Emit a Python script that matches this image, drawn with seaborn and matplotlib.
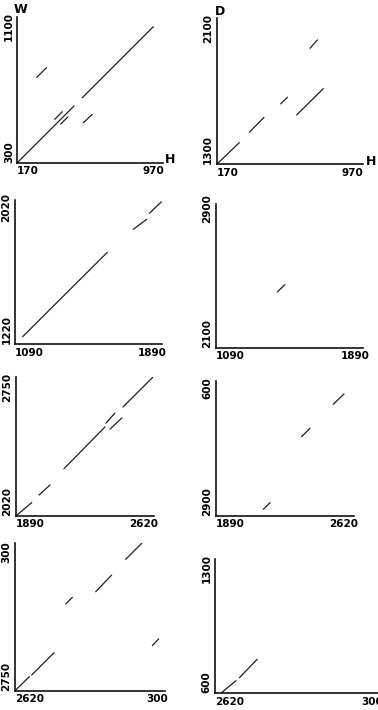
import matplotlib
matplotlib.use("Agg")
import matplotlib.pyplot as plt
import seaborn as sns
import pandas as pd

sns.set_style("white")
plt.rcParams['font.family'] = ['Liberation Sans Narrow', 'DejaVu Sans']
plt.rcParams['text.color'] = 'black'
plt.rcParams['xtick.color'] = 'black'
plt.rcParams['ytick.color'] = 'black'
plt.rcParams['axes.labelcolor'] = 'black'

# ---- data: segments (x0, y0, x1, y1) per panel ----
p1_segments = [(170, 300, 503, 633), (552, 682, 970, 1100), (390, 555, 435, 600),
               (425, 527, 468, 570), (284, 802, 342, 859), (558, 535, 611, 584)]
p2_segments = [(170, 1300, 303, 1427), (362, 1488, 448, 1576), (546, 1655, 586, 1694),
               (640, 1590, 797, 1745), (719, 1982, 762, 2031)]
p3_segments = [(1135, 1265, 1630, 1758), (1782, 1893, 1860, 1951), (1876, 1986, 1946, 2053)]
p4_segments = [(1443, 2421, 1486, 2463)]
p5_segments = [(1894, 2024, 1980, 2096), (2022, 2139, 2085, 2196), (2165, 2288, 2400, 2525),
               (2406, 2547, 2457, 2604), (2429, 2513, 2497, 2576), (2503, 2638, 2673, 2806)]
p6_segments = [(2160, 2938, 2198, 2976), (2378, 3352, 2426, 3400), (2559, 3537, 2620, 3595)]
p7_segments = [(2620, 2750, 2702, 2830), (2715, 2839, 2843, 2967), (2909, 3244, 2947, 3282),
               (3080, 3314, 3171, 3409), (3251, 3499, 3342, 3590), (3403, 3007, 3439, 3045)]
p8_segments = [(2657, 604, 2738, 671), (2757, 688, 2857, 791)]

# tick positions (unwrapped coordinates) and labels
x_ticks = [[170, 970], [170, 970], [1090, 1890], [1090, 1890],
           [1890, 2620], [1890, 2620], [2620, 3430], [2620, 3500]]
x_labels = [["170", "970"], ["170", "970"], ["1090", "1890"], ["1090", "1890"],
            ["1890", "2620"], ["1890", "2620"], ["2620", "300"], ["2620", "300"]]
y_ticks = [[300, 1100], [1300, 2100], [1220, 2020], [2100, 2900],
           [2020, 2750], [2900, 3630], [2750, 3540], [600, 1300]]
y_labels = [["300", "1100"], ["1300", "2100"], ["1220", "2020"], ["2100", "2900"],
            ["2020", "2750"], ["2900", "600"], ["2750", "300"], ["600", "1300"]]
axis_names = [("H", "W"), ("H", "D"), None, None, None, None, None, None]

segments = [p1_segments, p2_segments, p3_segments, p4_segments,
            p5_segments, p6_segments, p7_segments, p8_segments]

# ---- layout (pixels: left, right, bottom, top) and limits ----
W, H = 378, 710
boxes = [(17.3, 162.7, 162.7, 17.0), (216.7, 363.3, 164.3, 18.3),
         (15.0, 161.7, 344.3, 200.0), (216.0, 362.7, 347.7, 204.0),
         (16.0, 154.0, 516.0, 376.7), (216.0, 354.0, 516.0, 380.7),
         (15.0, 165.0, 690.7, 543.3), (215.0, 390.0, 693.3, 559.3)]
xlims = [(170, 1025), (170, 1032), (1090, 1948), (1090, 1935),
         (1890, 2681), (1890, 2677), (2620, 3475), (2620, 3602)]
ylims = [(300, 1157), (1300, 2158), (1220, 2064), (2100, 2928),
         (2020, 2810), (2900, 3671), (2750, 3590), (600, 1352)]

fig = plt.figure(figsize=(W / 100, H / 100), dpi=100)
tick_font = dict(family=['Liberation Sans Narrow', 'DejaVu Sans'], weight='bold', size=7.5,
                 color='black')

for i in range(8):
    l, r, b, t = boxes[i]
    ax = fig.add_axes([l / W, 1 - b / H, (r - l) / W, (b - t) / H])
    rows = []
    for k, (x0, y0, x1, y1) in enumerate(segments[i]):
        rows.append(dict(x=x0, y=y0, seg=k))
        rows.append(dict(x=x1, y=y1, seg=k))
    df = pd.DataFrame(rows)
    sns.lineplot(data=df, x="x", y="y", units="seg", estimator=None, sort=False,
                 color="#1e1e1e", linewidth=0.9, ax=ax, legend=False)
    ax.set_xlim(*xlims[i])
    ax.set_ylim(*ylims[i])
    for s in ["top", "right"]:
        ax.spines[s].set_visible(False)
    for s in ["left", "bottom"]:
        ax.spines[s].set_linewidth(1.2)
        ax.spines[s].set_color("#111111")
    ax.set_xticks(x_ticks[i])
    ax.set_xticklabels(x_labels[i], **tick_font)
    ax.set_yticks(y_ticks[i])
    ax.set_yticklabels(y_labels[i], rotation=90, **tick_font)
    ax.tick_params(length=0, pad=2.5)
    xl = ax.get_xticklabels()
    xl[0].set_ha("left")
    yl = ax.get_yticklabels()
    yl[0].set_va("bottom")
    yl[1].set_va("center")
    ax.set_xlabel("")
    ax.set_ylabel("")
    if axis_names[i]:
        hx, wy = axis_names[i]
        ax.set_xlabel(hx, fontsize=9, fontweight='bold', ha='left', va='center', color='black')
        ax.xaxis.set_label_coords(1.015, 0.02)
        ax.set_ylabel(wy, fontsize=9, fontweight='bold', rotation=0, ha='center', va='bottom',
                      color='black')
        ax.yaxis.set_label_coords(0.02, 1.005)

fig.savefig("out.png", dpi=100)
